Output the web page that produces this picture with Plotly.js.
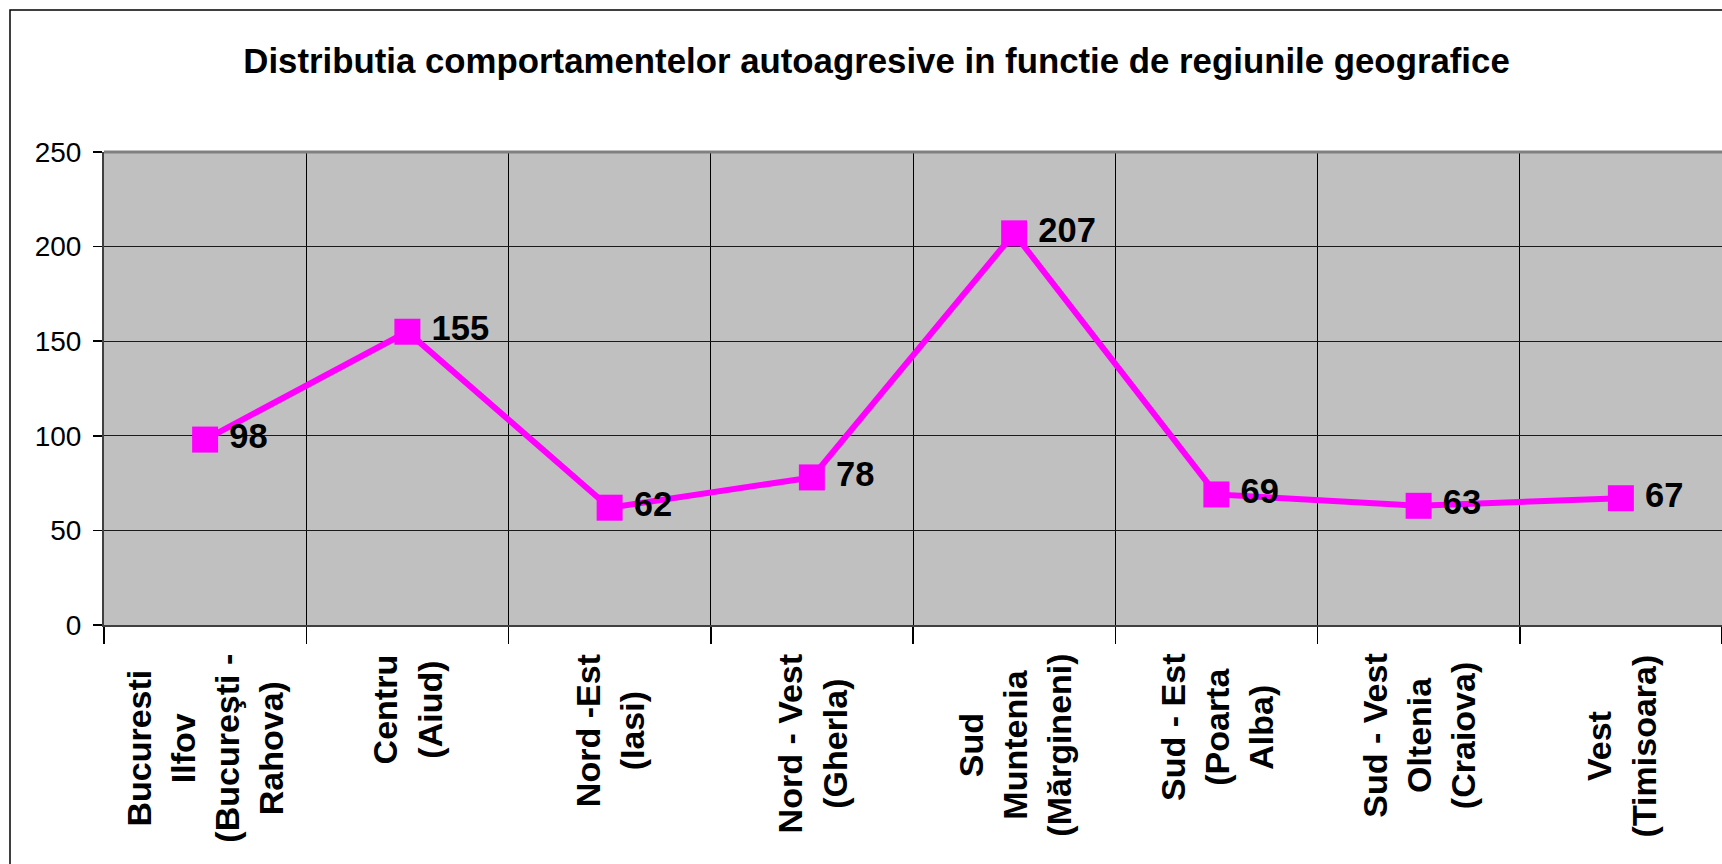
<!DOCTYPE html>
<html>
<head>
<meta charset="utf-8">
<script src="https://cdn.plot.ly/plotly-3.0.1.min.js"></script>
<style>
  html, body { margin: 0; padding: 0; background: #ffffff; overflow: hidden; }
  #chart { width: 1722px; height: 864px; }
</style>
</head>
<body>
<div id="chart"></div>
<script>
const titleText = "Distributia comportamentelor autoagresive in functie de regiunile geografice";
const categories = [
  "Bucuresti<br>Ilfov<br>(Bucureşti -<br>Rahova)",
  "Centru<br>(Aiud)",
  "Nord -Est<br>(Iasi)",
  "Nord - Vest<br>(Gherla)",
  "Sud<br>Muntenia<br>(Mărgineni)",
  "Sud - Est<br>(Poarta<br>Alba)",
  "Sud - Vest<br>Oltenia<br>(Craiova)",
  "Vest<br>(Timisoara)"
];
const values = [98, 155, 62, 78, 207, 69, 63, 67];
const yTicks = [0, 50, 100, 150, 200, 250];

const FONT = "Arial, 'Liberation Sans', sans-serif";
const PLOT_H = 473;

const trace = {
  type: "scatter",
  mode: "lines+markers+text",
  x: categories,
  y: values,
  text: values.map(v => "\u2009" + String(v)),
  textposition: "middle right",
  textfont: { family: FONT, size: 34.5, color: "#000000", weight: "bold" },
  line: { color: "#FF00FF", width: 6 },
  marker: { symbol: "square", size: 26, color: "#FF00FF" },
  cliponaxis: false,
  hoverinfo: "skip"
};

const labelAnnotations = categories.map(c => ({
  x: c, xref: "x",
  y: 0, yref: "paper",
  yanchor: "top", xanchor: "center",
  yshift: -27,
  text: "<b>" + c.split("<br>").join("</b><br><b>") + "</b>",
  textangle: -90,
  align: "center",
  showarrow: false,
  font: { family: FONT, size: 34, color: "#000000" }
}));

const layout = {
  width: 1722,
  height: 864,
  margin: { l: 104, r: 0, t: 152, b: 239, pad: 0 },
  paper_bgcolor: "#ffffff",
  plot_bgcolor: "#C0C0C0",
  showlegend: false,
  title: {
    text: "<b>" + titleText + "</b>",
    font: { family: FONT, size: 34.8, color: "#000000" },
    x: 0.509, xref: "container", xanchor: "center",
    y: 1 - 61 / 864, yref: "container", yanchor: "middle"
  },
  xaxis: {
    type: "category",
    categoryorder: "array",
    categoryarray: categories,
    range: [-0.5, categories.length - 0.5],
    showticklabels: false,
    tickson: "boundaries",
    ticks: "outside",
    ticklen: 17,
    tickwidth: 1.5,
    tickcolor: "#000000",
    showgrid: true,
    gridcolor: "#000000",
    gridwidth: 1,
    showline: true,
    linecolor: "#404040",
    linewidth: 2,
    zeroline: false,
    fixedrange: true
  },
  yaxis: {
    range: [0, 250],
    tickvals: yTicks,
    ticktext: yTicks.map(String),
    ticks: "outside",
    ticklen: 9,
    tickwidth: 1.5,
    tickcolor: "#000000",
    ticklabelstandoff: 6,
    tickfont: { family: FONT, size: 28, color: "#000000" },
    showgrid: true,
    gridcolor: "#1a1a1a",
    gridwidth: 1,
    showline: true,
    linecolor: "#404040",
    linewidth: 2,
    zeroline: false,
    fixedrange: true
  },
  annotations: labelAnnotations,
  shapes: [
    {
      type: "line", xref: "paper", yref: "paper",
      x0: 0, x1: 1, y0: 1, y1: 1,
      line: { color: "#808080", width: 3 }
    },
    {
      type: "rect", xref: "paper", yref: "paper",
      x0: (10 - 104) / 1618, x1: 1.2,
      y0: -1, y1: (625 - 10) / PLOT_H,
      line: { color: "#000000", width: 1.5 },
      fillcolor: "rgba(0,0,0,0)",
      layer: "above"
    }
  ]
};

Plotly.newPlot("chart", [trace], layout, { staticPlot: true, displayModeBar: false });
</script>
</body>
</html>
